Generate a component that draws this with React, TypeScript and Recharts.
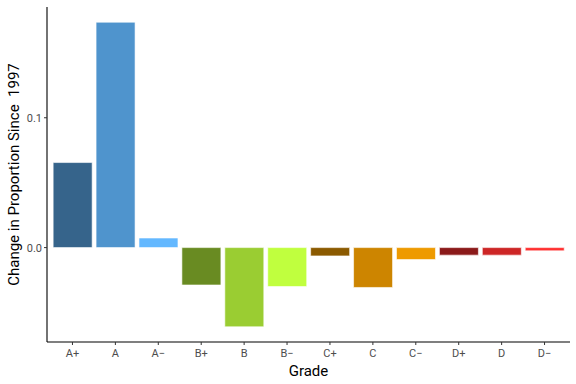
import React from 'react';
import { BarChart, Bar, Cell, XAxis, YAxis } from 'recharts';

const grades = ['A+', 'A', 'A−', 'B+', 'B', 'B−', 'C+', 'C', 'C−', 'D+', 'D', 'D−'];
const changes = [0.0655, 0.1736, 0.0074, -0.0288, -0.061, -0.03, -0.0064, -0.0307, -0.0092, -0.0058, -0.0058, -0.0025];
const colors = [
  '#36648B', '#4F94CD', '#63B8FF',
  '#698B22', '#9ACD32', '#C0FF3E',
  '#8B5A00', '#CD8500', '#EE9A00',
  '#8B1A1A', '#CD2626', '#FF3030',
];
const yTicks = [0, 0.1];

const data = grades.map((g, i) => ({ grade: g, change: changes[i] }));

const font = 'Roboto, "Liberation Sans", sans-serif';

export default function App() {
  return (
    <div style={{ position: 'absolute', left: 0, top: 0, width: 576, height: 384, background: '#fff', fontFamily: font }}>
      <BarChart
        width={576}
        height={384}
        data={data}
        margin={{ top: 7, right: 6, left: 0, bottom: 0 }}
        barCategoryGap="5%"
      >
        <XAxis
          dataKey="grade"
          height={42}
          padding={{ left: 4, right: 4 }}
          axisLine={{ stroke: '#000', strokeWidth: 1.1 }}
          tickLine={{ stroke: '#333' }}
          tickSize={3}
          tick={{ fontSize: 11, fill: '#4D4D4D', fontFamily: font, dy: 2 }}
          interval={0}
          label={{ value: 'Grade', position: 'insideBottom', offset: 8, fontSize: 15, fill: '#000', fontFamily: font }}
        />
        <YAxis
          width={47}
          domain={[-0.0727, 0.1853]}
          ticks={yTicks}
          tickFormatter={(v: number) => v.toFixed(1)}
          allowDataOverflow
          axisLine={{ stroke: '#000', strokeWidth: 1.1 }}
          tickLine={{ stroke: '#333' }}
          tickSize={3}
          tick={{ fontSize: 11, fill: '#4D4D4D', fontFamily: font }}
          label={{ value: 'Change in Proportion Since\u00A0 1997', angle: -90, position: 'insideLeft', offset: 14, fontSize: 15, fill: '#000', fontFamily: font, style: { textAnchor: 'middle' } }}
        />
        <Bar dataKey="change" isAnimationActive={false} stroke="#ffffff" strokeWidth={0.6}>
          {data.map((d, i) => (
            <Cell key={d.grade} fill={colors[i]} />
          ))}
        </Bar>
      </BarChart>
    </div>
  );
}
